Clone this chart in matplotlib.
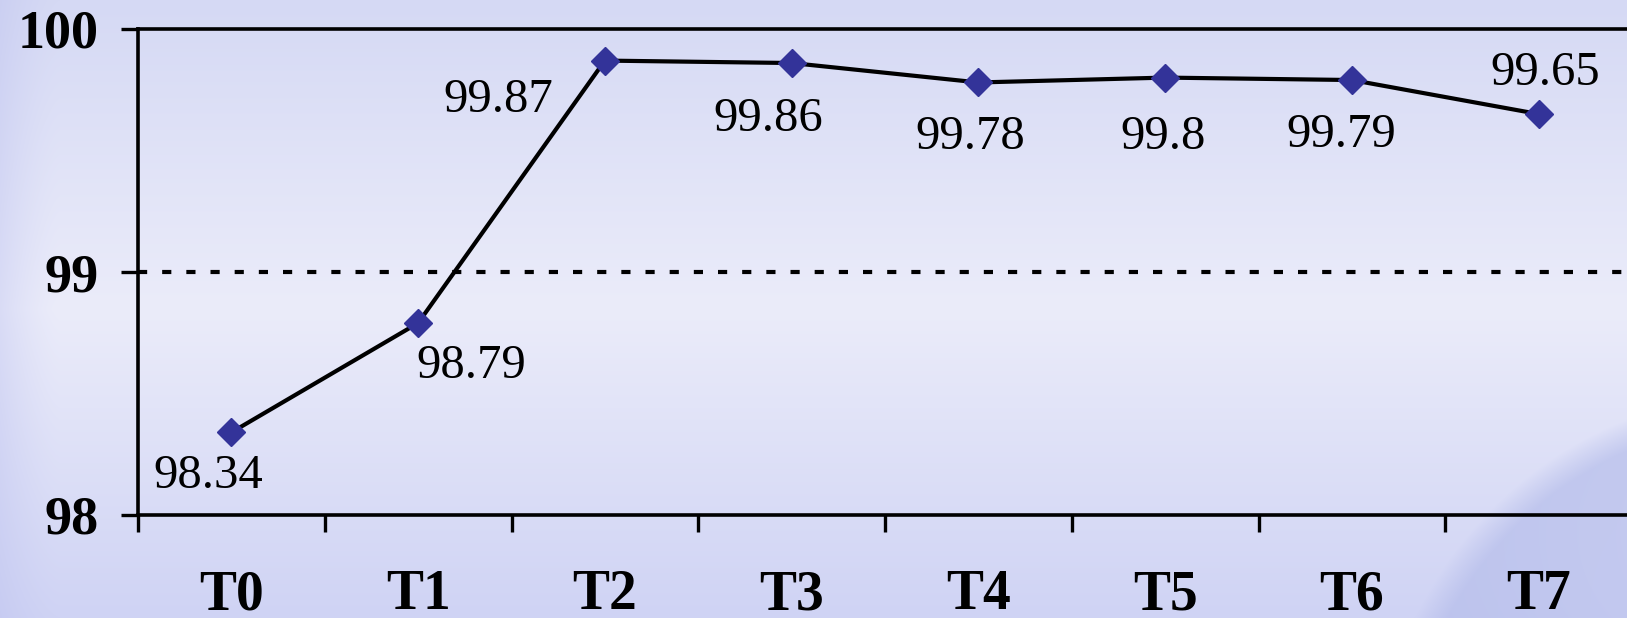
import numpy as np
import matplotlib
matplotlib.use('Agg')
import matplotlib.pyplot as plt

plt.rcParams['font.family'] = ['Liberation Serif', 'DejaVu Serif']

categories = ['T0', 'T1', 'T2', 'T3', 'T4', 'T5', 'T6', 'T7']
values = [98.34, 98.79, 99.87, 99.86, 99.78, 99.8, 99.79, 99.65]
value_labels = ['98.34', '98.79', '99.87', '99.86', '99.78', '99.8', '99.79', '99.65']
y_ticks = [98, 99, 100]

# label offsets (pixels) from each marker, like the excel placement
label_dx = [-23, 53, -107, -23, -8, -2, -11, 7]
label_dy = [-44, -43, -39, -56, -55, -59, -55, 41]

W, H = 1627, 618
fig = plt.figure(figsize=(W / 100, H / 100), dpi=100)

# background: lavender gradient, darker left edge, faint globe bottom right
bg = fig.add_axes([0, 0, 1, 1], zorder=-10)
yy, xx = np.mgrid[0:H, 0:W]
t = yy / (H - 1)
top = np.array([213, 217, 244]) / 255
mid = np.array([235, 236, 250]) / 255
bot = np.array([207, 211, 244]) / 255
w1 = np.clip(1 - np.abs(t - 0.5) / 0.5, 0, 1)[..., None]
upper = (t < 0.5)[..., None]
img = np.where(upper, top * (1 - w1) + mid * w1, bot * (1 - w1) + mid * w1)
edge = np.clip(1 - xx / 60.0, 0, 1)[..., None] ** 1.5
img = img * (1 - 0.35 * edge) + np.array([185, 190, 238]) / 255 * 0.35 * edge
r = np.hypot(xx - 1775, yy - 790)
globe = (np.clip((400 - r) / 30.0, 0, 1) * (0.4 + 0.3 * np.clip((r - 180) / 220, 0, 1)))[..., None]
img = img * (1 - globe) + np.array([180, 188, 234]) / 255 * globe
bg.imshow(img, aspect='auto', extent=[0, 1, 0, 1], origin='upper')
bg.axis('off')

ax = fig.add_axes([138 / W, 1 - 515 / H, (1632 - 138) / W, (515 - 29) / H])
ax.set_facecolor('none')

x = np.arange(len(categories))
ax.plot(x, values, color='black', lw=3, zorder=3, clip_on=False)
ax.plot(x, values, ls='none', marker='D', ms=14, color='#333399', zorder=4, clip_on=False)

for i in range(len(values)):
    ax.annotate(value_labels[i], (x[i], values[i]), xytext=(label_dx[i], label_dy[i]),
                textcoords='offset pixels', ha='center', va='center', fontsize=35)

ax.set_xlim(-0.5, len(categories) - 0.5)
ax.set_ylim(98, 100)
ax.set_yticks(y_ticks)
ax.set_yticklabels([str(v) for v in y_ticks], fontsize=39, fontweight='bold')
ax.set_xticks(x)
ax.set_xticklabels(categories, fontsize=40, fontweight='bold')
ax.set_xticks(np.arange(len(categories)) - 0.5, minor=True)
ax.tick_params(axis='x', which='major', length=0, pad=39)
ax.tick_params(axis='x', which='minor', length=12, width=2.4, direction='out')
ax.tick_params(axis='y', length=12, width=2.4, pad=16)

ax.axhline(99, color='black', lw=3, ls=(0, (2.2, 3.6)), zorder=1)

for s in ['left', 'bottom', 'top']:
    ax.spines[s].set_linewidth(2.6)
ax.spines['right'].set_visible(False)

fig.savefig('out.png', dpi=100)
